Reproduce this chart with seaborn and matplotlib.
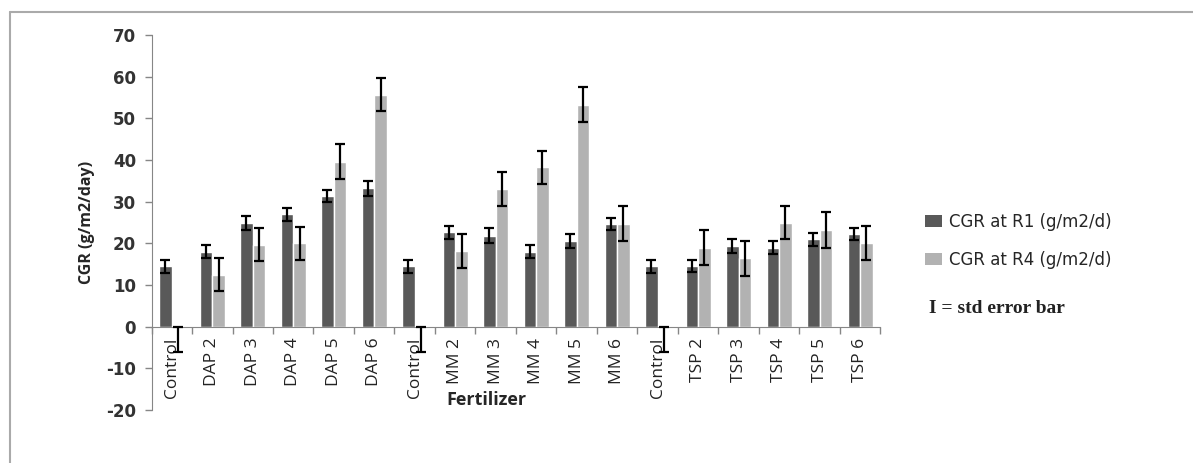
import numpy as np
import pandas as pd
import matplotlib
matplotlib.use("Agg")
import matplotlib.pyplot as plt
import seaborn as sns
from matplotlib.lines import Line2D
from matplotlib.patches import Patch

# ── data ─────────────────────────────────────────────────────────────────────
labels = ["Control", "DAP 2", "DAP 3", "DAP 4", "DAP 5", "DAP 6",
          "Control", "MM 2", "MM 3", "MM 4", "MM 5", "MM 6",
          "Control", "TSP 2", "TSP 3", "TSP 4", "TSP 5", "TSP 6"]
cgr_r1 = [14.5, 18.0, 25.0, 27.0, 31.4, 33.2,
          14.5, 22.7, 21.8, 18.0, 20.6, 24.6,
          14.5, 14.6, 19.4, 19.0, 21.0, 22.2]
err_r1 = [1.6, 1.5, 1.7, 1.6, 1.5, 1.7,
          1.6, 1.6, 1.8, 1.5, 1.6, 1.5,
          1.6, 1.5, 1.6, 1.6, 1.6, 1.5]
cgr_r4 = [0.0, 12.5, 19.7, 20.0, 39.6, 55.7,
          0.0, 18.2, 33.0, 38.3, 53.3, 24.7,
          0.0, 19.0, 16.4, 25.0, 23.3, 20.0]
err_r4_low = [6.0, 4.0, 4.0, 4.0, 4.2, 4.0,
              6.0, 4.0, 4.0, 4.0, 4.2, 4.2,
              6.0, 4.2, 4.2, 4.0, 4.3, 4.1]
err_r4_high = [0.0, 4.0, 4.0, 4.0, 4.2, 4.0,
               0.0, 4.0, 4.2, 4.0, 4.2, 4.2,
               0.0, 4.2, 4.2, 4.0, 4.3, 4.1]
series = ["CGR at R1 (g/m2/d)", "CGR at R4 (g/m2/d)"]
colors = ["#595959", "#b2b2b2"]

keys = [f"{i:02d}" for i in range(len(labels))]
df = pd.DataFrame({
    "key": keys * 2,
    "series": [series[0]] * len(keys) + [series[1]] * len(keys),
    "cgr": cgr_r1 + cgr_r4,
})

# ── figure ───────────────────────────────────────────────────────────────────
sns.set_style("white")
plt.rcParams["font.family"] = ["DejaVu Sans"]
plt.rcParams["axes.unicode_minus"] = False

fig = plt.figure(figsize=(11.93, 4.63), dpi=100)
ax = fig.add_axes([0.127, 0.1145, 0.611, 0.8095])

sns.barplot(data=df, x="key", y="cgr", hue="series", order=keys,
            hue_order=series, palette=colors, width=0.62,
            errorbar=None, saturation=1, legend=False, ax=ax)

# std error bars from the bar positions seaborn laid out
errs = [(err_r1, err_r1), (err_r4_low, err_r4_high)]
for cont, (lo, hi) in zip(ax.containers, errs):
    xs = [b.get_x() + b.get_width() / 2 for b in cont]
    ys = [b.get_height() for b in cont]
    ax.errorbar(xs, ys, yerr=[lo, hi], fmt="none", ecolor="black",
                elinewidth=1.6, capsize=3.6, capthick=1.6, zorder=5)

ax.set_ylim(-20, 70)
ax.set_xlim(-0.5, len(labels) - 0.5)
ax.set_yticks(range(-20, 71, 10))
ax.tick_params(axis="y", left=True, length=5, width=1, color="#868686",
               labelsize=12, labelcolor="#333333", pad=6)
for t in ax.get_yticklabels():
    t.set_fontweight("bold")

ax.spines["bottom"].set_position(("data", 0))
for s in ["top", "right"]:
    ax.spines[s].set_visible(False)
ax.spines["left"].set_color("#868686")
ax.spines["bottom"].set_color("#868686")

ax.set_xticks(range(len(labels)))
ax.set_xticklabels(labels, rotation=90, fontsize=12.5, family="Open Sans",
                   color="#222222")
ax.tick_params(axis="x", which="major", bottom=False, length=0, pad=8)
ax.set_xticks(np.arange(-0.5, len(labels), 1.0), minor=True)
ax.tick_params(axis="x", which="minor", bottom=True, length=5, width=1,
               color="#868686", direction="out")

ax.set_xlabel("")
ax.set_ylabel("CGR (g/m2/day)", fontsize=11.5, fontweight="bold", labelpad=8,
              family="Open Sans")
fig.text(0.408, 0.136, "Fertilizer", ha="center", va="center",
         fontsize=13, fontweight="bold", family="Open Sans")

handles = [Patch(facecolor=c, edgecolor="none") for c in colors]
fig.legend(handles, series, loc="upper left", bbox_to_anchor=(0.763, 0.572),
           frameon=False, fontsize=12, handlelength=1.0, handleheight=0.72,
           handletextpad=0.4, labelspacing=1.2, borderpad=0.4)
fig.text(0.779, 0.334, "I = std error bar", fontsize=14, fontweight="bold",
         family="Liberation Serif", color="#222222", va="center")

# outer border (only top and left edges visible)
fig.add_artist(Line2D([0.0085, 1.0], [0.974, 0.974], color="#aaaaaa", lw=1.5))
fig.add_artist(Line2D([0.0085, 0.0085], [0.0, 0.974], color="#aaaaaa", lw=1.5))

fig.savefig("out.png", dpi=100)
